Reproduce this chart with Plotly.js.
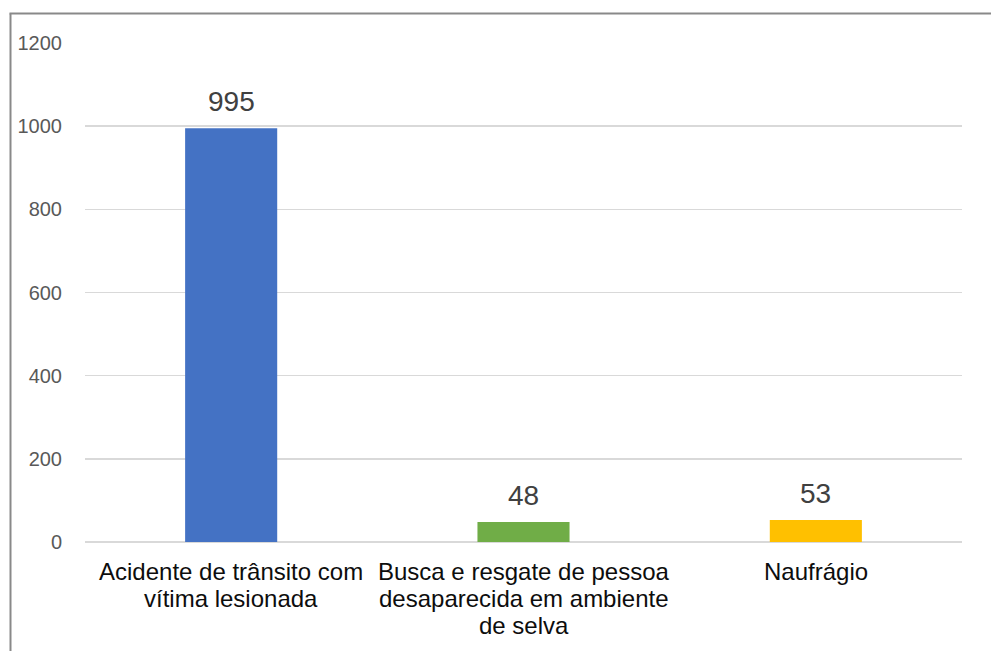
<!DOCTYPE html>
<html>
<head>
<meta charset="utf-8">
<script src="https://cdn.plot.ly/plotly-3.0.1.min.js"></script>
<style>
  html, body { margin: 0; padding: 0; background: #fff; }
  #chart { width: 991px; height: 651px; }
</style>
</head>
<body>
<div id="chart"></div>
<script>
// Ocorrências por tipo de atendimento
const categories = [
  "Acidente de trânsito com vítima lesionada",
  "Busca e resgate de pessoa desaparecida em ambiente de selva",
  "Naufrágio"
];
// Category labels, split into the lines they are printed on
const categoryLines = [
  ["Acidente de trânsito com", "vítima lesionada"],
  ["Busca e resgate de pessoa", "desaparecida em ambiente", "de selva"],
  ["Naufrágio"]
];
const values = [995, 48, 53];
const barColors = ["#4472C4", "#70AD47", "#FFC000"];
const yTicks = [0, 200, 400, 600, 800, 1000, 1200];

const W = 991, H = 651;
const M = { l: 85, r: 29, t: 43, b: 109 };
const plotW = W - M.l - M.r, plotH = H - M.t - M.b;
const px2x = p => (p - M.l) / plotW;
const py2y = p => (H - M.b - p) / plotH;

const annotations = [];
// value labels above each bar
categories.forEach((c, i) => {
  annotations.push({
    x: c, y: values[i], xref: "x", yref: "y",
    text: String(values[i]), showarrow: false,
    yanchor: "bottom", yshift: 9,
    font: { family: "Liberation Sans, Arial, sans-serif", size: 28, color: "#404040" }
  });
});
// category labels under the axis, one line each
categoryLines.forEach((lines, i) => {
  lines.forEach((ln, j) => {
    annotations.push({
      x: categories[i], y: 0, xref: "x", yref: "paper",
      text: ln, showarrow: false,
      yanchor: "middle", yshift: -29 - 27 * j,
      font: { family: "Liberation Sans, Arial, sans-serif", size: 24, color: "#0d0d0d" }
    });
  });
});

// outer frame (left and top edges)
const frame = [
  { type: "line", xref: "paper", yref: "paper",
    x0: px2x(10.5), x1: px2x(10.5), y0: py2y(13.5), y1: py2y(H + 5),
    line: { color: "#898989", width: 2 } },
  { type: "line", xref: "paper", yref: "paper",
    x0: px2x(9.5), x1: px2x(W + 5), y0: py2y(13.5), y1: py2y(13.5),
    line: { color: "#898989", width: 2 } }
];

const data = [{
  type: "bar",
  x: categories,
  y: values,
  marker: { color: barColors },
  hoverinfo: "x+y"
}];

const layout = {
  width: W, height: H,
  margin: M,
  paper_bgcolor: "#fff", plot_bgcolor: "#fff",
  showlegend: false,
  bargap: 0.685,
  xaxis: {
    type: "category",
    showticklabels: false,
    showgrid: false, zeroline: false, showline: false, ticks: ""
  },
  yaxis: {
    range: [0, 1200],
    tickvals: yTicks,
    ticks: "",
    ticklabelstandoff: 22,
    tickfont: { family: "Liberation Sans, Arial, sans-serif", size: 20, color: "#595959" },
    showgrid: true, gridcolor: "#d9d9d9", gridwidth: 1.6,
    zeroline: true, zerolinecolor: "#d9d9d9", zerolinewidth: 1.6,
    showline: false
  },
  annotations: annotations,
  shapes: frame
};

Plotly.newPlot("chart", data, layout, { displayModeBar: false, staticPlot: true });
</script>
</body>
</html>
